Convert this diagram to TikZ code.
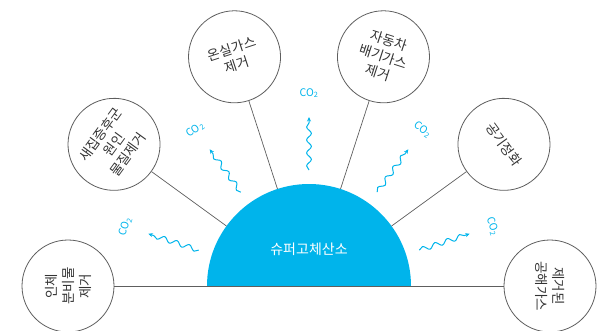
\documentclass[tikz,border=0pt]{standalone}
\usepackage{fontspec}
\usetikzlibrary{decorations.pathmorphing,arrows.meta,calc}
\newfontfamily\kr{Noto Sans CJK KR}
\definecolor{sky}{HTML}{00B4EB}
\definecolor{ink}{HTML}{333333}
\definecolor{rim}{HTML}{5E5E5E}
\begin{document}
\begin{tikzpicture}[x=1pt,y=1pt,
  circ/.style={circle, draw=rim, line width=0.8pt, minimum size=92pt, inner sep=0pt, align=center, font=\kr\fontsize{13.5}{17}\selectfont, text=ink},
  link/.style={draw=rim, line width=0.7pt},
  wave/.style={draw=sky, line width=1pt, decorate, decoration={snake, amplitude=2.4pt, segment length=13pt, post length=3pt}, -{Stealth[length=4.5pt,width=4pt]}},
  co/.style={text=sky, font=\kr\fontsize{10.5}{10.5}\selectfont, inner sep=0pt}]
\useasboundingbox (0,0) rectangle (610,330);
\coordinate (O) at (309,44);
\fill[sky] ($(O)+(102,0)$) arc[start angle=0,end angle=180,radius=102] -- cycle;
\node[text=white, font=\kr\fontsize{14}{16}\selectfont] (sun) at (309,81) {슈퍼고체산소};
% circles
\node[circ, rotate=90]  (cA) at ($(O)+(180:241)$) {인체\\분비물\\제거};
\node[circ, rotate=54]  (cB) at ($(O)+(144:241)$) {새집증후군\\원인\\물질제거};
\node[circ, rotate=18]  (cC) at ($(O)+(108:241)$) {온실가스\\제거};
\node[circ, rotate=-18] (cD) at ($(O)+(72:241)$) {자동차\\배기가스\\제거};
\node[circ, rotate=-54] (cE) at ($(O)+(36:241)$) {공기정화};
\node[circ, rotate=-90] (cF) at ($(O)+(0:241)$) {제거된\\공해가스};
% links
\coordinate (pB) at ($(O)+(144:102)$);
\coordinate (pC) at ($(O)+(108:102)$);
\coordinate (pD) at ($(O)+(72:102)$);
\coordinate (pE) at ($(O)+(36:102)$);
\draw[link] (pB) -- (cB);
\draw[link] (pC) -- (cC);
\draw[link] (pD) -- (cD);
\draw[link] (pE) -- (cE);
\draw[link] (cA) -- (cF);
% CO2 waves
\foreach \a/\n in {162/1,126/2,90/3,54/4,18/5}{
  \coordinate (ws\n) at ($(O)+(\a:116)$);
  \coordinate (we\n) at ($(O)+(\a:169)$);
  \draw[wave] (ws\n) -- (we\n);
  \pgfmathsetmacro{\r}{\a-90}
  \node[co, rotate=\r] (k\n) at ($(O)+(\a:193)$) {CO\textsubscript{2}};
}
\end{tikzpicture}
\end{document}
